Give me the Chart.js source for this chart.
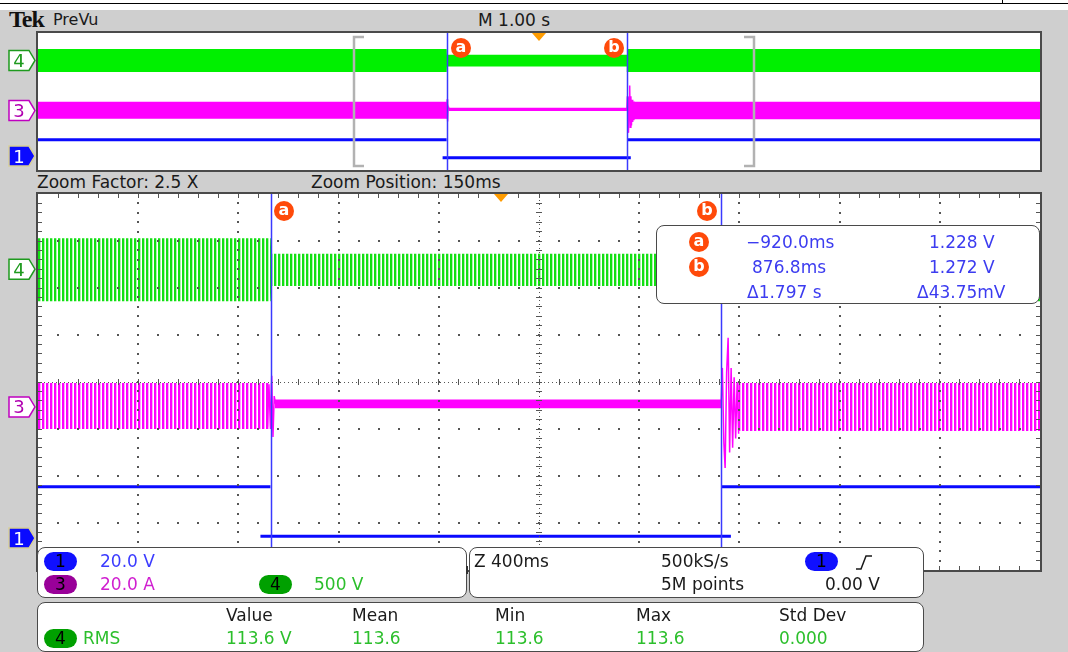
<!DOCTYPE html>
<html>
<head>
<meta charset="utf-8">
<script src="https://cdn.jsdelivr.net/npm/chart.js@4.4.1/dist/chart.umd.min.js"></script>
<style>
  body { margin:0; width:1068px; height:652px; overflow:hidden; background:#fff; font-family:'DejaVu Sans', sans-serif; position:relative; }
  #scope { position:absolute; left:0; top:10px; width:1068px; height:642px; background:#cfcfcf; }
  .t { position:absolute; font-size:17px; line-height:20px; white-space:nowrap; color:#1a1a1a; }
  .frame { position:absolute; border:2px solid #4a4a4a; background:#fff; }
  .frame canvas { position:absolute; left:0; top:0; }
  .box { position:absolute; background:#fff; border:1.5px solid #4a4a4a; border-radius:8px; }
  .pill { position:absolute; width:33px; height:19px; border-radius:10px; text-align:center; font-size:17px; line-height:19px; color:#000; }
  .cur { position:absolute; width:20px; height:20px; border-radius:50%; background:#ff4a0a; color:#fff; font-weight:bold; font-size:16px; line-height:18px; text-align:center; z-index:5; }
  .trig { position:absolute; width:0; height:0; border-left:7px solid transparent; border-right:7px solid transparent; border-top:8px solid #ff9c00; z-index:5; }
  .blue { color:#3c3cf0; }
  .grn { color:#2cbf2c; }
  #tags { position:absolute; left:0; top:0; z-index:6; }
</style>
</head>
<body>
<div id="scope"></div>
<div style="position:absolute;left:0;top:3px;width:1068px;height:1px;background:#000"></div>
<div style="position:absolute;left:1002px;top:0;width:1px;height:3px;background:#000"></div>

<div class="t" style="left:9px;top:6px;font-family:'Liberation Serif',serif;font-weight:bold;font-size:24px;line-height:26px;letter-spacing:-1px;color:#111">Tek</div>
<div class="t" style="left:53px;top:10px;font-size:16px">PreVu</div>
<div class="t" style="left:478px;top:10px">M 1.00 s</div>

<div class="frame" style="left:36px;top:31px;width:1002px;height:137px"><canvas id="overview" width="1002" height="137"></canvas></div>

<div class="t" style="left:37px;top:172px">Zoom Factor: 2.5 X</div>
<div class="t" style="left:311px;top:172px">Zoom Position: 150ms</div>

<div class="frame" style="left:36px;top:192px;width:1002px;height:376px"><canvas id="main" width="1002" height="376"></canvas></div>

<!-- cursor readout -->
<div class="box" style="left:656px;top:225px;width:382px;height:77px;z-index:4"></div>
<div class="cur" style="left:689px;top:232px;z-index:5">a</div>
<div class="cur" style="left:689px;top:257px;z-index:5">b</div>
<div class="t blue" style="left:746px;top:232px;z-index:5">−920.0ms</div>
<div class="t blue" style="left:929px;top:232px;z-index:5">1.228 V</div>
<div class="t blue" style="left:752px;top:257px;z-index:5">876.8ms</div>
<div class="t blue" style="left:929px;top:257px;z-index:5">1.272 V</div>
<div class="t blue" style="left:747px;top:282px;z-index:5">Δ1.797 s</div>
<div class="t blue" style="left:917px;top:282px;z-index:5">Δ43.75mV</div>

<!-- cursor / trigger markers positioned from the chart scales -->
<div class="cur" id="mA">a</div>
<div class="cur" id="mB">b</div>
<div class="cur" id="oA">a</div>
<div class="cur" id="oB">b</div>
<div class="trig" id="tMain"></div>
<div class="trig" id="tOver"></div>

<!-- bottom boxes -->
<div class="box" style="left:37px;top:547px;width:428px;height:49px"></div>
<div class="pill" style="left:44px;top:552px;background:#1010ff">1</div>
<div class="t" style="left:100px;top:551px;color:#3c3cff">20.0 V</div>
<div class="pill" style="left:44px;top:575px;background:#990099">3</div>
<div class="t" style="left:100px;top:574px;color:#d020d0">20.0 A</div>
<div class="pill" style="left:259px;top:575px;background:#00a000">4</div>
<div class="t" style="left:314px;top:574px;color:#2cbf2c">500 V</div>
<div style="position:absolute;left:466px;top:566px;width:2px;height:8px;background:#333"></div>

<div class="box" style="left:469px;top:547px;width:453px;height:49px"></div>
<div class="t" style="left:474px;top:551px">Z 400ms</div>
<div class="t" style="left:661px;top:551px">500kS/s</div>
<div class="t" style="left:661px;top:574px">5M points</div>
<div class="pill" style="left:805px;top:552px;background:#1010ff">1</div>
<svg style="position:absolute;left:850px;top:550px" width="30" height="24"><path d="M6,19 H11 L16,6 H22" stroke="#1a1a1a" stroke-width="1.5" fill="none"/></svg>
<div class="t" style="left:825px;top:574px">0.00 V</div>

<div class="box" style="left:37px;top:602px;width:885px;height:48px"></div>
<div class="t" style="left:226px;top:605px">Value</div>
<div class="t" style="left:352px;top:605px">Mean</div>
<div class="t" style="left:495px;top:605px">Min</div>
<div class="t" style="left:636px;top:605px">Max</div>
<div class="t" style="left:779px;top:605px">Std Dev</div>
<div class="pill" style="left:44px;top:629px;background:#00a000">4</div>
<div class="t grn" style="left:83px;top:628px">RMS</div>
<div class="t grn" style="left:226px;top:628px">113.6 V</div>
<div class="t grn" style="left:352px;top:628px">113.6</div>
<div class="t grn" style="left:495px;top:628px">113.6</div>
<div class="t grn" style="left:636px;top:628px">113.6</div>
<div class="t grn" style="left:779px;top:628px">0.000</div>

<svg id="tags" width="1068" height="652"></svg>

<script>
// time in ms, amplitude in screen divisions
const cursorTimes = [-920.0, 876.8];
const triggerTime = 0;
const zoomWindow = [-1850, 2150];
const overviewRange = [-5000, 5000];

// ch4 (green) envelope
const ch4Time = [-5000, -921, -919, 876, 878, 5000];
const ch4High = [3.06, 3.06, 2.73, 2.73, 3.06, 3.06];
const ch4Low  = [1.72, 1.72, 2.04, 2.04, 1.72, 1.72];

// ch3 (magenta) envelopes
const ch3BurstATime = [-5000, -922];
const ch3BurstAHigh = [-0.02, -0.02];
const ch3BurstALow  = [-1.00, -1.00];
const ch3QuietTime = [-905, 878];
const ch3QuietHigh = [-0.37, -0.37];
const ch3QuietLow  = [-0.56, -0.56];
const ch3BurstBTime = [945, 5000];
const ch3BurstBHigh = [-0.02, -0.02];
const ch3BurstBLow  = [-1.04, -1.04];
const ch3SpikeATime = [-934, -928, -922, -917, -912, -907, -902];
const ch3SpikeA     = [-0.95, -0.05, -1.0, 0.13, -1.17, -0.3, -0.46];
const ch3SpikeBTime = [877, 882, 888, 893, 899, 905, 911, 917, 923, 929, 935, 941, 947];
const ch3SpikeB     = [-0.45, 0.30, -1.30, -1.83, 0.20, 0.94, -1.50, 0.30, -1.40, 0.10, -1.20, 0.00, -1.10];

// ch1 (blue): high level, low level, high level (null = pen up)
const ch1Time  = [-5000, -922, -922, -962, 916, 916, 880, 5000];
const ch1Level = [-2.23, -2.23, null, -3.28, -3.28, null, -2.23, -2.23];

// channel marker levels
const tagNames  = ['4', '3', '1'];
const tagLevels = [2.40, -0.53, -3.32];

function pts(xs, ys) { return xs.map((x, i) => ({ x: x, y: ys[i] })); }

function stripes(color) {
  const c = document.createElement('canvas');
  c.width = 4; c.height = 4;
  const g = c.getContext('2d');
  g.fillStyle = color;
  g.fillRect(0, 0, 2, 4);
  g.globalAlpha = 0.35;
  g.fillRect(2, 0, 1, 4);
  return g.createPattern(c, 'repeat');
}

function buildDatasets(detail) {
  const none = 'rgba(0,0,0,0)';
  const greenFill = detail ? stripes('#12e012') : '#00f000';
  const magFill = detail ? stripes('#ff00ff') : '#ff00ff';
  return [
    { data: pts(ch1Time, ch1Level), borderColor: '#0a0aff', borderWidth: 3, fill: false, spanGaps: false },
    { data: pts(ch3SpikeATime, ch3SpikeA), borderColor: '#ff00ff', borderWidth: 1.5, fill: false },
    { data: pts(ch3SpikeBTime, ch3SpikeB), borderColor: '#ff00ff', borderWidth: 1.5, fill: false },
    { data: pts(ch3QuietTime, ch3QuietHigh), borderColor: none, borderWidth: 1, fill: '+1', backgroundColor: '#ff00ff' },
    { data: pts(ch3QuietTime, ch3QuietLow), borderColor: none, borderWidth: 1, fill: false },
    { data: pts(ch3BurstATime, ch3BurstAHigh), borderColor: none, borderWidth: 1, fill: '+1', backgroundColor: magFill },
    { data: pts(ch3BurstATime, ch3BurstALow), borderColor: none, borderWidth: 1, fill: false },
    { data: pts(ch3BurstBTime, ch3BurstBHigh), borderColor: none, borderWidth: 1, fill: '+1', backgroundColor: magFill },
    { data: pts(ch3BurstBTime, ch3BurstBLow), borderColor: none, borderWidth: 1, fill: false },
    { data: pts(ch4Time, ch4High), borderColor: none, borderWidth: 1, fill: '+1', backgroundColor: greenFill },
    { data: pts(ch4Time, ch4Low), borderColor: none, borderWidth: 1, fill: false }
  ];
}

// Tek style dotted graticule, 10 x 8 divisions
const graticule = {
  id: 'graticule',
  afterDatasetsDraw(chart) {
    const ctx = chart.ctx, a = chart.chartArea;
    const dx = (a.right - a.left) / 10, dy = (a.bottom - a.top) / 8;
    const dot = (x, y, w, h) => ctx.fillRect(Math.round(x - w / 2), Math.round(y - h / 2), w, h);
    ctx.save();
    ctx.fillStyle = '#555';
    for (let i = 1; i < 10; i++) {
      if (i === 5) continue;
      for (let k = 1; k < 40; k++) dot(a.left + i * dx, a.top + k * dy / 5, 2, 2);
    }
    for (let j = 1; j < 8; j++) {
      if (j === 4) continue;
      for (let k = 1; k < 50; k++) dot(a.left + k * dx / 5, a.top + j * dy, 2, 2);
    }
    // center crosshair
    const cx = a.left + 5 * dx, cy = a.top + 4 * dy;
    for (let y = a.top + 2; y < a.bottom; y += 4) dot(cx, y, 1, 1);
    for (let k = 1; k < 40; k++) dot(cx, a.top + k * dy / 5, 6, 1);
    for (let x = a.left + 2; x < a.right; x += 4) dot(x, cy, 1, 1);
    for (let k = 1; k < 50; k++) dot(a.left + k * dx / 5, cy, 1, 6);
    // edge ticks
    for (let k = 1; k < 50; k++) {
      dot(a.left + k * dx / 5, a.top + 2, 1, 4);
      dot(a.left + k * dx / 5, a.bottom - 2, 1, 4);
    }
    for (let k = 1; k < 40; k++) {
      dot(a.left + 2, a.top + k * dy / 5, 4, 1);
      dot(a.right - 2, a.top + k * dy / 5, 4, 1);
    }
    ctx.restore();
  }
};

const cursors = {
  id: 'cursors',
  afterDatasetsDraw(chart, args, opts) {
    const ctx = chart.ctx, a = chart.chartArea, x = chart.scales.x;
    ctx.save();
    if (opts.brackets) {
      ctx.strokeStyle = '#b2b2b2';
      ctx.lineWidth = 2.5;
      zoomWindow.forEach((t, i) => {
        const px = Math.round(x.getPixelForValue(t));
        const dir = i === 0 ? 1 : -1;
        ctx.beginPath();
        ctx.moveTo(px + dir * 10, a.top + 4);
        ctx.lineTo(px, a.top + 4);
        ctx.lineTo(px, a.bottom - 4);
        ctx.lineTo(px + dir * 10, a.bottom - 4);
        ctx.stroke();
      });
    }
    ctx.strokeStyle = '#3a3aff';
    ctx.lineWidth = 1.5;
    cursorTimes.forEach(t => {
      const px = Math.round(x.getPixelForValue(t)) + 0.5;
      ctx.beginPath();
      ctx.moveTo(px, a.top);
      ctx.lineTo(px, a.bottom);
      ctx.stroke();
    });
    ctx.restore();
  }
};

function makeChart(id, xmin, xmax, detail, plugins) {
  return new Chart(document.getElementById(id), {
    type: 'line',
    data: { datasets: buildDatasets(detail) },
    options: {
      responsive: false,
      animation: false,
      events: [],
      layout: { padding: 0 },
      elements: { point: { radius: 0 }, line: { tension: 0 } },
      scales: {
        x: { type: 'linear', min: xmin, max: xmax, display: false },
        y: { type: 'linear', min: -4, max: 4, display: false }
      },
      plugins: {
        legend: { display: false },
        tooltip: { enabled: false },
        cursors: { brackets: !detail }
      }
    },
    plugins: plugins
  });
}

const overview = makeChart('overview', overviewRange[0], overviewRange[1], false, [cursors]);
const mainChart = makeChart('main', zoomWindow[0], zoomWindow[1], true, [graticule, cursors]);

// place HTML markers from the scales
const offO = { x: 38, y: 33 }, offM = { x: 38, y: 194 };
function place(id, chart, off, t, top, shift) {
  const el = document.getElementById(id);
  const px = off.x + chart.scales.x.getPixelForValue(t);
  el.style.left = Math.round(px - el.offsetWidth / 2 + shift) + 'px';
  el.style.top = top + 'px';
}
place('mA', mainChart, offM, cursorTimes[0], 201, 13);
place('mB', mainChart, offM, cursorTimes[1], 201, -14);
place('oA', overview, offO, cursorTimes[0], 38, 14);
place('oB', overview, offO, cursorTimes[1], 38, -13);
place('tMain', mainChart, offM, triggerTime, 194, 0);
place('tOver', overview, offO, triggerTime, 33, 0);

// channel tags on the left edge
const tagStyle = {
  '4': { fill: '#fff', stroke: '#1e9a1e', text: '#1e9a1e' },
  '3': { fill: '#fff', stroke: '#c000c0', text: '#b000b0' },
  '1': { fill: '#0a0aff', stroke: '#d8cf96', text: '#fff' }
};
let svg = '';
[[overview, offO], [mainChart, offM]].forEach(([chart, off]) => {
  tagNames.forEach((n, i) => {
    let y = off.y + chart.scales.y.getPixelForValue(tagLevels[i]);
    y = Math.min(y, off.y + chart.chartArea.bottom - 14);
    const s = tagStyle[n];
    svg += '<path d="M9,' + (y - 10) + ' H29 L35,' + y + ' L29,' + (y + 10) + ' H9 Z" fill="' + s.fill + '" stroke="' + s.stroke + '" stroke-width="1.5"/>';
    svg += '<text x="19" y="' + (y + 6.5) + '" font-family="DejaVu Sans" font-size="18" text-anchor="middle" fill="' + s.text + '">' + n + '</text>';
  });
});
document.getElementById('tags').innerHTML = svg;
</script>
</body>
</html>
